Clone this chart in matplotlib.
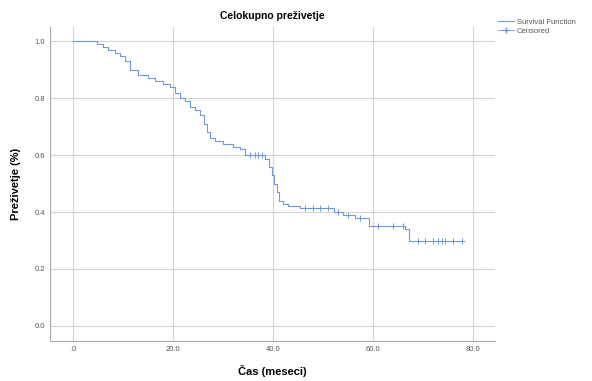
import numpy as np
import matplotlib.pyplot as plt
from matplotlib.lines import Line2D

plt.rcParams['font.family'] = ['Liberation Sans', 'DejaVu Sans']

# Kaplan-Meier steps
event_times = [0, 4.8, 6, 7, 8.5, 9.5, 10.5, 11.5, 13, 15, 16.5, 18, 19.5, 20.5,
               21.5, 22.5, 23.5, 24.5, 25.5, 26.2, 26.8, 27.5, 28.5, 30, 32, 33.5,
               34.5, 38.5, 39.2, 39.8, 40.3, 40.8, 41.3, 42, 43, 45.5, 52.3, 54,
               56.5, 59.3, 66.5, 67.3]
survival = [1.0, 0.99, 0.98, 0.97, 0.96, 0.95, 0.93, 0.90, 0.88, 0.87, 0.86, 0.85,
            0.84, 0.82, 0.80, 0.79, 0.77, 0.76, 0.74, 0.71, 0.68, 0.66, 0.65, 0.64,
            0.63, 0.62, 0.60, 0.585, 0.56, 0.53, 0.50, 0.47, 0.44, 0.43, 0.42, 0.415,
            0.40, 0.39, 0.38, 0.35, 0.34, 0.30]
censored_times = [35.5, 36.5, 37, 37.8, 46.5, 48, 49.5, 51, 53, 55, 57.5, 61, 64,
                  66, 69, 70.5, 72, 73, 73.8, 74.5, 76, 77.8]
last_time = 77.8

x_ticks = [0, 20, 40, 60, 80]
x_labels = ['.0', '20.0', '40.0', '60.0', '80.0']
y_ticks = [0.0, 0.2, 0.4, 0.6, 0.8, 1.0]
y_labels = ['0.0', '0.2', '0.4', '0.6', '0.8', '1.0']

line_col = '#7099dc'

fig = plt.figure(figsize=(5.92, 3.81), dpi=100)
ax = fig.add_axes([0.0845, 0.105, 0.752, 0.824])

xs = event_times + [last_time]
ys = survival + [survival[-1]]
ax.step(xs, ys, where='post', color=line_col, linewidth=0.8)

# censored marks sit on the curve
idx = np.searchsorted(event_times, censored_times, side='right') - 1
cens_y = [survival[i] for i in idx]
ax.plot(censored_times, cens_y, '+', color=line_col, markersize=4, markeredgewidth=0.7)

ax.set_xlim(-4.6, 84.5)
ax.set_ylim(-0.053, 1.05)
ax.set_xticks(x_ticks)
ax.set_xticklabels(x_labels)
ax.set_yticks(y_ticks)
ax.set_yticklabels(y_labels)
ax.tick_params(labelsize=5.5, colors='#555555', length=0)
ax.grid(True, color='#d4d4d4', linewidth=0.8)
ax.set_axisbelow(True)
for s in ['top', 'right']:
    ax.spines[s].set_visible(False)
for s in ['left', 'bottom']:
    ax.spines[s].set_color('#aaaaaa')
    ax.spines[s].set_linewidth(0.8)

ax.set_title('Celokupno preživetje', fontsize=7.5, fontweight='bold', pad=6)
ax.set_xlabel('Čas (meseci)', fontsize=8, fontweight='bold', labelpad=9)
ax.set_ylabel('Preživetje (%)', fontsize=8, fontweight='bold', labelpad=10)

handles = [Line2D([], [], color=line_col, linewidth=0.8),
           Line2D([], [], color=line_col, marker='+', linestyle='-', linewidth=0.6,
                  markersize=4)]
fig.legend(handles, ['Survival Function', 'Censored'], loc='upper left',
           bbox_to_anchor=(0.83, 0.97), fontsize=5.5, frameon=False,
           handlelength=2.0, handletextpad=0.4, labelspacing=0.2,
           labelcolor='#555555')

fig.savefig('out.png', dpi=100)
